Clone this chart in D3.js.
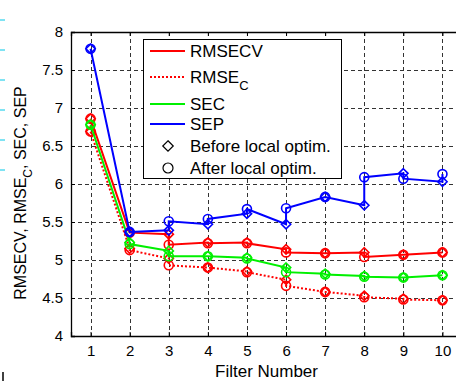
<!DOCTYPE html>
<html>
<head>
<meta charset="utf-8">
<script src="https://cdn.jsdelivr.net/npm/d3@7"></script>
<style>
  html, body { margin: 0; padding: 0; background: #fff; }
  svg { display: block; }
</style>
</head>
<body>
<div id="chart"></div>
<script>
var filters      = [1, 2, 3, 4, 5, 6, 7, 8, 9, 10];
var rmsecvBefore = [6.86, 5.36, 5.34, 5.23, 5.23, 5.14, 5.09, 5.10, 5.07, 5.10];
var rmsecvAfter  = [6.86, 5.36, 5.20, 5.22, 5.22, 5.10, 5.09, 5.04, 5.07, 5.10];
var rmsecBefore  = [6.69, 5.15, 5.02, 4.90, 4.85, 4.74, 4.58, 4.53, 4.49, 4.47];
var rmsecAfter   = [6.69, 5.13, 4.93, 4.90, 4.84, 4.66, 4.58, 4.51, 4.48, 4.47];
var secBefore    = [6.78, 5.23, 5.12, 5.05, 5.03, 4.90, 4.82, 4.79, 4.77, 4.80];
var secAfter     = [6.78, 5.21, 5.05, 5.05, 5.02, 4.84, 4.81, 4.78, 4.77, 4.80];
var sepBefore    = [7.78, 5.37, 5.39, 5.47, 5.61, 5.47, 5.83, 5.72, 6.14, 6.03];
var sepAfter     = [7.78, 5.37, 5.51, 5.54, 5.67, 5.68, 5.83, 6.09, 6.07, 6.13];
var yTicks       = [4, 4.5, 5, 5.5, 6, 6.5, 7, 7.5, 8];

(function () {
    var width = 456, height = 381;
    var left = 71, top = 32, right = 462, bottom = 336;
    var tickFont = '"Liberation Sans", Arial, sans-serif';

    var svg = d3.select('#chart').append('svg')
        .attr('width', width)
        .attr('height', height);

    var x = d3.scaleLinear().domain([0.5, 10.5]).range([left, right]);
    var y = d3.scaleLinear().domain([4, 8]).range([bottom, top]);

    // Gitter
    var grid = svg.append('g')
        .attr('stroke', '#333')
        .attr('stroke-width', 1)
        .attr('stroke-dasharray', '4,3');
    filters.forEach(function (f) {
        grid.append('line')
            .attr('x1', Math.round(x(f)) + 0.5).attr('x2', Math.round(x(f)) + 0.5)
            .attr('y1', top).attr('y2', bottom);
    });
    yTicks.slice(1, -1).forEach(function (t) {
        grid.append('line')
            .attr('x1', left).attr('x2', right)
            .attr('y1', Math.round(y(t)) + 0.5).attr('y2', Math.round(y(t)) + 0.5);
    });

    // Achsen (Ticks nach innen)
    svg.append('g')
        .attr('transform', 'translate(0,' + bottom + ')')
        .call(d3.axisBottom(x).tickValues(filters).tickSize(-4).tickPadding(9).tickFormat(d3.format('d')));
    svg.append('g')
        .attr('transform', 'translate(0,' + top + ')')
        .call(d3.axisTop(x).tickValues(filters).tickSize(-4).tickFormat(''));
    svg.append('g')
        .attr('transform', 'translate(' + left + ',0)')
        .call(d3.axisLeft(y).tickValues(yTicks).tickSize(-4).tickPadding(8).tickFormat(d3.format('')));
    svg.selectAll('.domain').attr('stroke', '#000').attr('stroke-width', 1.3);
    svg.selectAll('.tick line').attr('stroke', '#000');
    svg.selectAll('.tick text')
        .attr('font-family', tickFont)
        .attr('font-size', 15)
        .attr('fill', '#000');

    // Datenreihen: je Filter erst "vorher", dann "nachher"
    var series = [
        { label: 'RMSECV', before: rmsecvBefore, after: rmsecvAfter, color: '#ff0000', dash: null },
        { label: 'RMSEC',  before: rmsecBefore,  after: rmsecAfter,  color: '#ff0000', dash: '2,2' },
        { label: 'SEC',    before: secBefore,    after: secAfter,    color: '#00f000', dash: null },
        { label: 'SEP',    before: sepBefore,    after: sepAfter,    color: '#0000ff', dash: null }
    ];

    var line = d3.line().x(function (d) { return x(d[0]); }).y(function (d) { return y(d[1]); });
    var diamond = d3.symbol().type(d3.symbolDiamond2).size(55);

    series.forEach(function (s) {
        var pts = [];
        filters.forEach(function (f, i) {
            pts.push([f, s.before[i]]);
            pts.push([f, s.after[i]]);
        });
        var g = svg.append('g');
        g.append('path')
            .attr('d', line(pts))
            .attr('fill', 'none')
            .attr('stroke', s.color)
            .attr('stroke-width', 2)
            .attr('stroke-dasharray', s.dash);
        filters.forEach(function (f, i) {
            g.append('path')
                .attr('d', diamond())
                .attr('transform', 'translate(' + x(f) + ',' + y(s.before[i]) + ')')
                .attr('fill', 'none')
                .attr('stroke', s.color)
                .attr('stroke-width', 1.6);
            g.append('circle')
                .attr('cx', x(f))
                .attr('cy', y(s.after[i]))
                .attr('r', 4.5)
                .attr('fill', 'none')
                .attr('stroke', s.color)
                .attr('stroke-width', 1.6);
        });
    });

    /* Legende */
    var lg = svg.append('g').attr('font-family', tickFont).attr('font-size', 17);
    lg.append('rect')
        .attr('x', 143.5).attr('y', 39.5)
        .attr('width', 198).attr('height', 139)
        .attr('fill', '#fff')
        .attr('stroke', '#000');

    var rows = [
        { y: 51,  s: series[0] },
        { y: 77,  s: series[1] },
        { y: 104, s: series[2] },
        { y: 124, s: series[3] }
    ];
    rows.forEach(function (r) {
        lg.append('line')
            .attr('x1', 150).attr('x2', 185)
            .attr('y1', r.y).attr('y2', r.y)
            .attr('stroke', r.s.color)
            .attr('stroke-width', 2)
            .attr('stroke-dasharray', r.s.dash);
        var t = lg.append('text').attr('x', 190).attr('y', r.y + 6);
        if (r.s.label === 'RMSEC') {
            t.append('tspan').text('RMSE');
            t.append('tspan').attr('font-size', 13).attr('dy', 7).text('C');
        } else {
            t.text(r.s.label);
        }
    });

    lg.append('path')
        .attr('d', d3.symbol().type(d3.symbolDiamond2).size(70)())
        .attr('transform', 'translate(168,146)')
        .attr('fill', 'none').attr('stroke', '#000').attr('stroke-width', 1.2);
    lg.append('text').attr('x', 190).attr('y', 152).text('Before local optim.');
    lg.append('circle')
        .attr('cx', 168).attr('cy', 168).attr('r', 5)
        .attr('fill', 'none').attr('stroke', '#000').attr('stroke-width', 1.2);
    lg.append('text').attr('x', 190).attr('y', 174).text('After local optim.');

    // Achsenbeschriftungen
    svg.append('text')
        .attr('x', (left + right) / 2)
        .attr('y', 377)
        .attr('text-anchor', 'middle')
        .attr('font-family', tickFont)
        .attr('font-size', 17)
        .text('Filter Number');

    var yl = svg.append('text')
        .attr('transform', 'translate(26,193) rotate(-90)')
        .attr('text-anchor', 'middle')
        .attr('font-family', tickFont)
        .attr('font-size', 16);
    yl.append('tspan').text('RMSECV, RMSE');
    yl.append('tspan').attr('font-size', 12).attr('dy', 6).text('C');
    yl.append('tspan').attr('dy', -6).text(', SEC, SEP');

    // kleine Randmarken links
    [20, 50, 80, 110, 140, 170].forEach(function (yy) {
        svg.append('line')
            .attr('x1', 0).attr('x2', 5)
            .attr('y1', yy).attr('y2', yy)
            .attr('stroke', '#00c8e8').attr('stroke-width', 1);
    });
    svg.append('line')
        .attr('x1', 3).attr('x2', 3).attr('y1', 372).attr('y2', 381)
        .attr('stroke', '#000').attr('stroke-width', 1.5);
})();
</script>
</body>
</html>
